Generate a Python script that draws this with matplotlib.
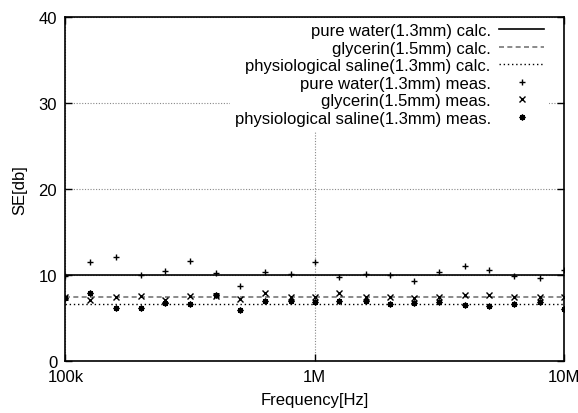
import matplotlib.pyplot as plt
import numpy as np
from matplotlib.ticker import FixedLocator, FixedFormatter, NullLocator

plt.rcParams['font.family'] = ['Liberation Sans', 'DejaVu Sans']

# 1/3 octave measurement frequencies [Hz]
freq = [100e3, 125e3, 160e3, 200e3, 250e3, 315e3, 400e3, 500e3, 630e3, 800e3,
        1e6, 1.25e6, 1.6e6, 2e6, 2.5e6, 3.15e6, 4e6, 5e6, 6.3e6, 8e6, 10e6]

# calculated SE [dB]
water_calc = [10.0] * 21
glycerin_calc = [7.4] * 21
saline_calc = [6.55] * 21

# measured SE [dB]
water_meas = [9.9, 11.45, 12.05, 10.0, 10.45, 11.65, 10.15, 8.65, 10.35, 10.05,
              11.5, 9.7, 10.08, 9.97, 9.3, 10.28, 11.05, 10.6, 9.88, 9.58, 10.6]
glycerin_meas = [7.4, 7.1, 7.45, 7.56, 7.1, 7.56, 7.5, 7.17, 7.83, 7.45,
                 7.45, 7.84, 7.44, 7.44, 7.29, 7.37, 7.64, 7.64, 7.37, 7.44, 7.44]
saline_meas = [7.3, 7.87, 6.13, 6.1, 6.7, 6.55, 7.6, 5.93, 6.9, 6.98,
               6.8, 6.9, 6.98, 6.56, 6.7, 6.79, 6.51, 6.33, 6.56, 6.79, 6.0]

xticks = [1e5, 1e6, 1e7]
xtick_labels = ["100k", "1M", "10M"]

fig = plt.figure(figsize=(5.78, 4.14), dpi=100)
ax = fig.add_axes([0.1133, 0.1263, 0.8625, 0.8302])

ax.plot(freq, water_calc, color="black", lw=1.2, label="pure water(1.3mm) calc.")
ax.plot(freq, glycerin_calc, color="#777777", lw=1.2, ls=(0, (3, 2)), label="glycerin(1.5mm) calc.")
ax.plot(freq, saline_calc, color="black", lw=1.0, ls=(0, (1, 2)), label="physiological saline(1.3mm) calc.")
ax.plot(freq, water_meas, ls="none", marker="+", ms=5, mew=1.0, color="black", label="pure water(1.3mm) meas.")
ax.plot(freq, glycerin_meas, ls="none", marker="x", ms=4.5, mew=1.0, color="black", label="glycerin(1.5mm) meas.")
ax.plot(freq, saline_meas, ls="none", marker=(8, 2, 0), ms=4.2, mew=1.0, color="black", label="physiological saline(1.3mm) meas.")

ax.set_xscale("log")
ax.set_xlim(1e5, 1e7)
ax.set_ylim(0, 40)
ax.xaxis.set_major_locator(FixedLocator(xticks))
ax.xaxis.set_major_formatter(FixedFormatter(xtick_labels))
ax.xaxis.set_minor_locator(NullLocator())
ax.set_yticks([0, 10, 20, 30, 40])

ax.grid(True, color="#888888", ls=(0, (1, 1.5)), lw=0.8)
ax.tick_params(direction="in", top=True, right=True, length=5, width=1, labelsize=12, pad=6)
for s in ax.spines.values():
    s.set_linewidth(1.2)

ax.set_xlabel("Frequency[Hz]", fontsize=12, labelpad=6)
ax.set_ylabel("SE[db]", fontsize=12, labelpad=8)

leg = ax.legend(loc="upper right", bbox_to_anchor=(0.97, 0.997), markerfirst=False,
                frameon=True, fontsize=12.0, handlelength=2.7, handletextpad=0.5,
                labelspacing=0.15, borderpad=0.3, borderaxespad=0.0, fancybox=False)
leg.get_frame().set_edgecolor("none")
leg.get_frame().set_facecolor("white")
leg.get_frame().set_alpha(1.0)

plt.savefig("out.png", dpi=100)
